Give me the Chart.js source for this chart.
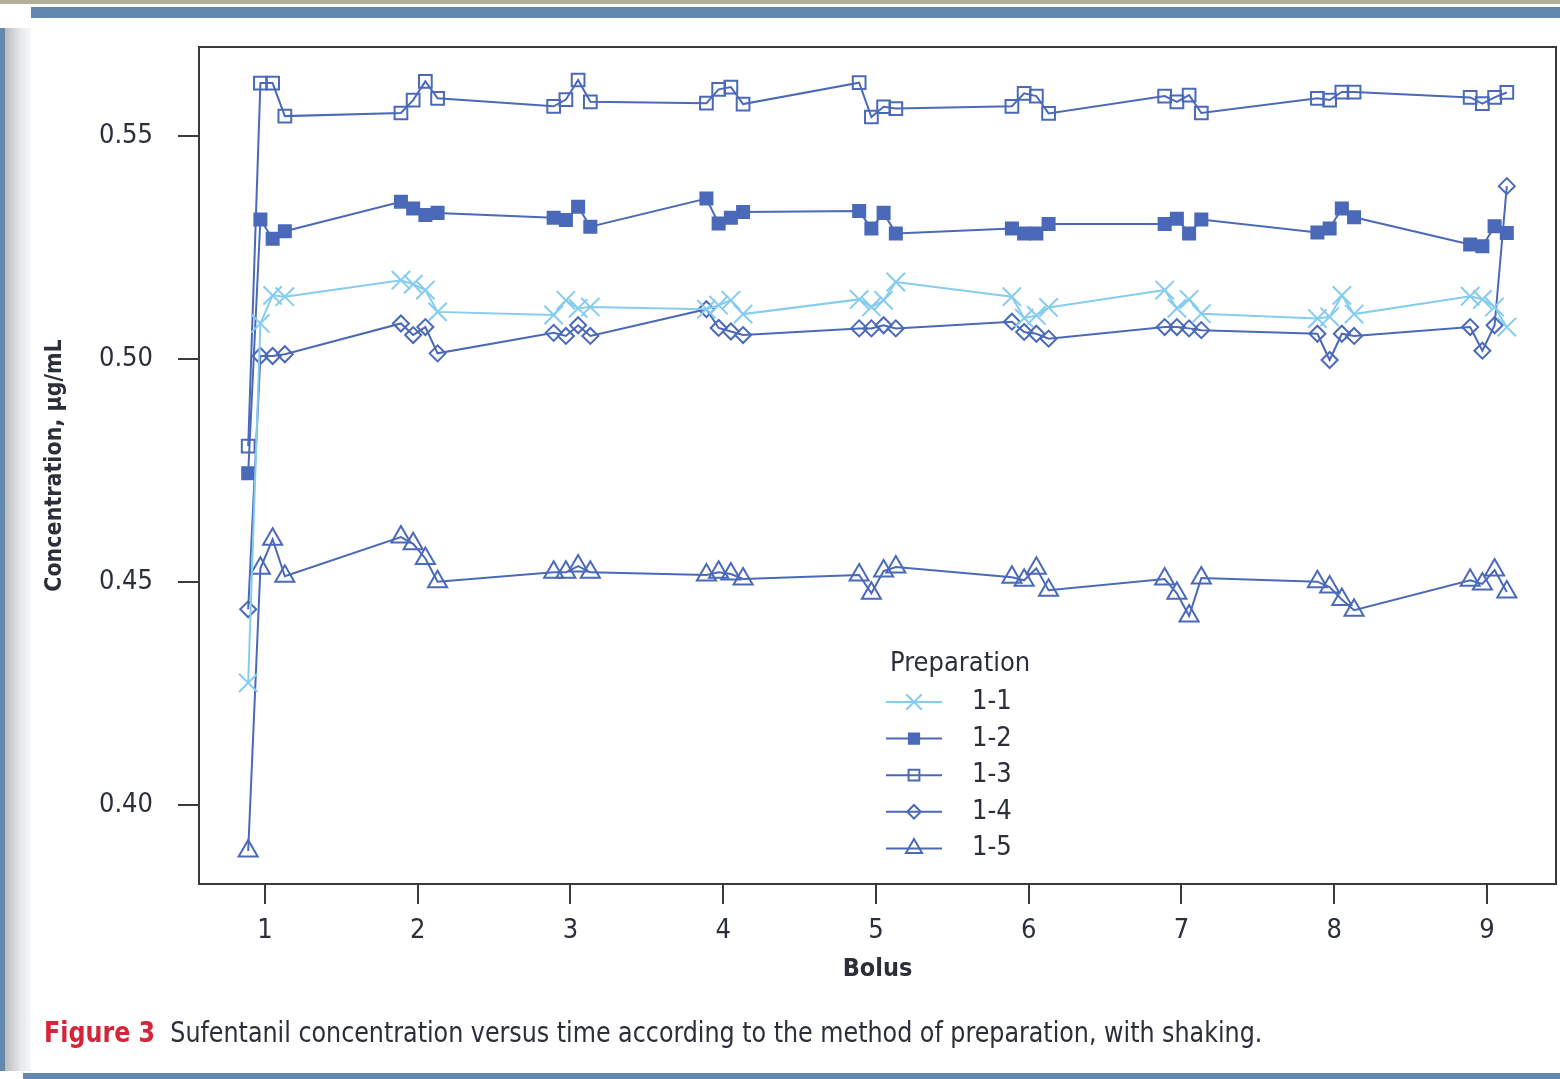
<!DOCTYPE html>
<html>
<head>
<meta charset="utf-8">
<script src="https://cdn.jsdelivr.net/npm/chart.js@4.4.1/dist/chart.umd.min.js"></script>
<style>
  html, body { margin: 0; padding: 0; background: #fff; }
  #page { position: relative; width: 1560px; height: 1079px; overflow: hidden; background: #fff; }
  .topStrip { position: absolute; left: 0; top: 0; width: 1560px; height: 4px; background: #b3ae98; }
  .topBar { position: absolute; left: 31px; top: 7px; width: 1529px; height: 11px; background: #6388b0; }
  .leftBar { position: absolute; left: 0; top: 28px; width: 5px; height: 1043px; background: #6388b0; }
  .leftShade { position: absolute; left: 5px; top: 28px; width: 26px; height: 1043px;
               background: linear-gradient(to right, #b9bcbf, #e6e8ea 60%, #f6f7f8); }
  .bottomBar { position: absolute; left: 23px; top: 1073px; width: 1537px; height: 6px; background: #6388b0; }
  #chartBox { position: absolute; left: 0; top: 0; width: 1571px; height: 1079px; }
  .caption { position: absolute; left: 44px; top: 1016px; white-space: nowrap;
             transform: scaleX(0.945); transform-origin: left center;
             font-family: "Liberation Sans Narrow", "DejaVu Sans Condensed", Arial, sans-serif;
             font-size: 28px; color: #2b2f3a; }
  .caption b { color: #d5253b; margin-right: 8px; }
</style>
</head>
<body>
<div id="page">
  <div class="topStrip"></div>
  <div class="topBar"></div>
  <div class="leftBar"></div>
  <div class="leftShade"></div>
  <div class="bottomBar"></div>
  <div id="chartBox"><canvas id="chart" width="1571" height="1079"></canvas></div>
  <div class="caption"><b>Figure 3</b> Sufentanil concentration versus time according to the method of preparation, with shaking.</div>
</div>
<script>
// boluses and the 4 sampling positions around each bolus
const boluses = [1, 2, 3, 4, 5, 6, 7, 8, 9];
const sampleOffsets = [-0.11, -0.03, 0.05, 0.13];

const prep11 = [0.4274, 0.5080, 0.5143, 0.5140, 0.5177, 0.5168, 0.5155, 0.5106,
  0.5099, 0.5132, 0.5114, 0.5117, 0.5112, 0.5121, 0.5132, 0.5101,
  0.5134, 0.5117, 0.5132, 0.5173, 0.5140, 0.5092, 0.5098, 0.5116,
  0.5155, 0.5114, 0.5134, 0.5102, 0.5091, 0.5095, 0.5143, 0.5101,
  0.5141, 0.5134, 0.5117, 0.5072];
const prep12 = [0.4744, 0.5313, 0.5270, 0.5287, 0.5353, 0.5338, 0.5323, 0.5328,
  0.5317, 0.5312, 0.5342, 0.5297, 0.5360, 0.5304, 0.5317, 0.5330,
  0.5332, 0.5293, 0.5328, 0.5282, 0.5293, 0.5282, 0.5282, 0.5303,
  0.5303, 0.5315, 0.5282, 0.5313, 0.5284, 0.5293, 0.5338, 0.5318,
  0.5257, 0.5253, 0.5298, 0.5283];
const prep13 = [0.4805, 0.5619, 0.5619, 0.5545, 0.5552, 0.5581, 0.5623, 0.5585,
  0.5567, 0.5582, 0.5626, 0.5577, 0.5574, 0.5605, 0.5610, 0.5572,
  0.5620, 0.5543, 0.5566, 0.5562, 0.5567, 0.5596, 0.5590, 0.5551,
  0.5590, 0.5577, 0.5592, 0.5552, 0.5585, 0.5581, 0.5599, 0.5599,
  0.5587, 0.5573, 0.5587, 0.5598];
const prep14 = [0.4439, 0.5007, 0.5007, 0.5011, 0.5080, 0.5054, 0.5072, 0.5013,
  0.5059, 0.5052, 0.5076, 0.5052, 0.5112, 0.5070, 0.5062, 0.5054,
  0.5069, 0.5069, 0.5076, 0.5069, 0.5084, 0.5061, 0.5057, 0.5046,
  0.5072, 0.5072, 0.5069, 0.5065, 0.5057, 0.4998, 0.5057, 0.5052,
  0.5072, 0.5019, 0.5076, 0.5388];
const prep15 = [0.3897, 0.4531, 0.4596, 0.4513, 0.4601, 0.4586, 0.4553, 0.4501,
  0.4522, 0.4522, 0.4536, 0.4522, 0.4516, 0.4522, 0.4518, 0.4507,
  0.4516, 0.4475, 0.4525, 0.4534, 0.4511, 0.4504, 0.4531, 0.4482,
  0.4507, 0.4475, 0.4424, 0.4509, 0.4501, 0.4489, 0.4461, 0.4437,
  0.4504, 0.4496, 0.4527, 0.4478];

const prepLabels = ['1-1', '1-2', '1-3', '1-4', '1-5'];
const yTicks = [0.40, 0.45, 0.50, 0.55];
const xTicks = [1, 2, 3, 4, 5, 6, 7, 8, 9];

const FONT = '"Liberation Sans Narrow", "DejaVu Sans Condensed", Arial, sans-serif';
const DARK = '#4a69b8';
const LIGHT = '#86ccef';
const AXIS = '#3a3a3a';
const TEXT = '#2b2f3a';

const sampleX = [];
boluses.forEach(b => sampleOffsets.forEach(o => sampleX.push(b + o)));
const toPoints = vals => vals.map((v, i) => ({ x: sampleX[i], y: v }));

function series(label, vals, color, style, radius, filled) {
  return {
    label: label,
    data: toPoints(vals),
    showLine: true,
    borderColor: color,
    borderWidth: 2,
    pointStyle: style,
    pointRadius: radius,
    pointBorderColor: color,
    pointBorderWidth: 2,
    pointBackgroundColor: filled ? color : 'rgba(0,0,0,0)'
  };
}

const datasets = [
  series(prepLabels[0], prep11, LIGHT, 'crossRot', 13, false),
  series(prepLabels[1], prep12, DARK, 'rect', 8.5, true),
  series(prepLabels[2], prep13, DARK, 'rect', 9, false),
  series(prepLabels[3], prep14, DARK, 'rectRot', 8, false),
  series(prepLabels[4], prep15, DARK, 'triangle', 11, false)
];

// frame around plot + legend inside the plot area
const framePlugin = {
  id: 'frameAndLegend',
  afterDraw(chart) {
    const ctx = chart.ctx;
    const a = chart.chartArea;
    ctx.save();
    ctx.strokeStyle = AXIS;
    ctx.lineWidth = 2;
    ctx.strokeRect(a.left, a.top, a.right - a.left, a.bottom - a.top);

    // legend
    const lx = a.left + 687, ly = a.top + 617;
    ctx.fillStyle = TEXT;
    ctx.font = '27px ' + FONT;
    ctx.textBaseline = 'middle';
    ctx.textAlign = 'left';
    ctx.fillText('Preparation', lx + 4, ly);
    chart.data.datasets.forEach((ds, i) => {
      const y = ly + 38 + i * 36.6;
      ctx.strokeStyle = ds.borderColor;
      ctx.lineWidth = 2;
      ctx.beginPath();
      ctx.moveTo(lx, y);
      ctx.lineTo(lx + 56, y);
      ctx.stroke();
      ctx.fillStyle = ds.pointBackgroundColor;
      ctx.strokeStyle = ds.pointBorderColor;
      Chart.helpers.drawPoint(ctx, {
        pointStyle: ds.pointStyle, radius: ds.pointRadius * 0.85,
        borderWidth: 2, rotation: 0
      }, lx + 28, y);
      ctx.fillStyle = TEXT;
      ctx.fillText(ds.label, lx + 86, y);
    });
    ctx.restore();
  }
};

new Chart(document.getElementById('chart'), {
  type: 'scatter',
  data: { datasets: datasets },
  options: {
    responsive: false,
    animation: false,
    events: [],
    layout: { padding: { left: 30, top: 47, right: 4, bottom: 95 } },
    plugins: { legend: { display: false }, tooltip: { enabled: false } },
    scales: {
      x: {
        type: 'linear',
        min: 0.568,
        max: 9.452,
        afterBuildTicks: s => { s.ticks = xTicks.map(v => ({ value: v })); },
        afterFit: s => { s.height = 100; },
        grid: { display: true, drawOnChartArea: false, drawTicks: true, tickLength: 20, color: AXIS, lineWidth: 2 },
        border: { display: true, color: AXIS, width: 2 },
        ticks: { padding: 11, color: TEXT, font: { family: FONT, size: 27 }, callback: v => String(v) },
        title: { display: true, text: 'Bolus', color: TEXT, padding: { top: 0, bottom: 0 },
                 font: { family: FONT, size: 25, weight: 'bold' } }
      },
      y: {
        type: 'linear',
        min: 0.3823,
        max: 0.5700,
        afterBuildTicks: s => { s.ticks = yTicks.map(v => ({ value: v })); },
        afterFit: s => { s.width = 169; },
        grid: { display: true, drawOnChartArea: false, drawTicks: true, tickLength: 21, color: AXIS, lineWidth: 2 },
        border: { display: true, color: AXIS, width: 2 },
        ticks: { padding: 25, color: TEXT, font: { family: FONT, size: 27 }, callback: v => v.toFixed(2) },
        title: { display: true, text: 'Concentration, µg/mL', color: TEXT, padding: { top: 11, bottom: 0 },
                 font: { family: FONT, size: 23, weight: 'bold' } }
      }
    }
  },
  plugins: [framePlugin]
});
</script>
</body>
</html>
